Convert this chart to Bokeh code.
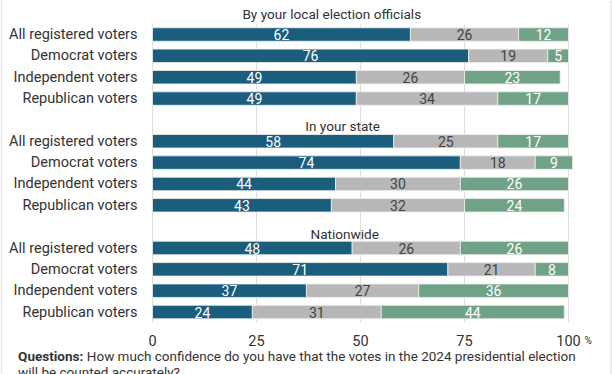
from bokeh.plotting import figure
from bokeh.models import ColumnDataSource, Range1d, Span
from bokeh.embed import file_html
from bokeh.resources import INLINE
from bokeh.core.properties import value

# ---- data ----
groups = ["By your local election officials", "In your state", "Nationwide"]
categories = ["All registered voters", "Democrat voters", "Independent voters", "Republican voters"]
high = [62, 76, 49, 49, 58, 74, 44, 43, 48, 71, 37, 24]
mid = [26, 19, 26, 34, 25, 18, 30, 32, 26, 21, 27, 31]
low = [12, 5, 23, 17, 17, 9, 26, 24, 26, 8, 36, 44]
x_ticks = [0, 25, 50, 75, 100]
x_tick_labels = ["0", "25", "50", "75", "100"]
caption_bold = "Questions:"
caption_text = "How much confidence do you have that the votes in the 2024 presidential election"
caption_line2 = "will be counted accurately?"

FONT = "Roboto"
BLUE = "#1a5d7d"
GREY = "#b7b7b7"
GREEN = "#6fa287"
TXT = "#333333"

W, H = 612, 374
PX_PER_X = 4.16      # pixels per percentage point
X0_PX = 152          # pixel of x = 0
ROW_PX = 21.35       # pixels per row unit
Y0_PX = 34           # pixel of first row centre

rows = []
cat_labels = []
for g in range(len(groups)):
    for r, c in enumerate(categories):
        rows.append(g * 5 + r)
        cat_labels.append(c)

right_mid = [h + m for h, m in zip(high, mid)]
right_low = [h + m + l for h, m, l in zip(high, mid, low)]

src = ColumnDataSource(dict(
    y=rows, cat=cat_labels,
    h_l=[0] * len(rows), h_r=high,
    m_l=high, m_r=right_mid,
    l_l=right_mid, l_r=right_low,
    h_c=[v / 2 for v in high],
    m_c=[a + b / 2 for a, b in zip(high, mid)],
    l_c=[a + b / 2 for a, b in zip(right_mid, low)],
    h_t=[str(v) for v in high], m_t=[str(v) for v in mid], l_t=[str(v) for v in low],
    zero=[0] * len(rows),
))

x_start = -X0_PX / PX_PER_X
x_end = (W - X0_PX) / PX_PER_X
y_top = -Y0_PX / ROW_PX
y_bot = (H - Y0_PX) / ROW_PX

p = figure(width=W, height=H, output_backend="svg", toolbar_location=None,
           x_range=Range1d(x_start, x_end), y_range=Range1d(y_bot, y_top),
           min_border=0)
p.outline_line_color = None
p.background_fill_color = "white"
p.border_fill_color = "white"
p.xaxis.visible = False
p.yaxis.visible = False
p.grid.visible = False

# chart border (left/right edges)
p.add_layout(Span(location=x_start + 0.6 / PX_PER_X, dimension="height", line_color="#d9d9d9", line_width=1))
p.add_layout(Span(location=x_end - 1.4 / PX_PER_X, dimension="height", line_color="#d9d9d9", line_width=1))

# gridlines
g_top = min(rows) - 0.47
g_bot = max(rows) + 0.49
p.segment(x0=x_ticks, x1=x_ticks, y0=[g_top] * len(x_ticks), y1=[g_bot] * len(x_ticks),
          line_color="#dedede", line_width=1)

bh = 0.63
p.hbar(y="y", left="h_l", right="h_r", height=bh, source=src, fill_color=BLUE, line_color="#f0f0f0", line_width=0.8)
p.hbar(y="y", left="m_l", right="m_r", height=bh, source=src, fill_color=GREY, line_color="#f0f0f0", line_width=0.8)
p.hbar(y="y", left="l_l", right="l_r", height=bh, source=src, fill_color=GREEN, line_color="#f0f0f0", line_width=0.8)

common = dict(source=src, text_align="center", text_baseline="middle",
              text_font=value(FONT), text_font_size="14px")
p.text(x="h_c", y="y", text="h_t", text_color="white", **common)
p.text(x="m_c", y="y", text="m_t", text_color="#444444", **common)
p.text(x="l_c", y="y", text="l_t", text_color="white", **common)

# category labels
p.text(x="zero", y="y", text="cat", source=src, x_offset=-15, text_align="right", text_baseline="middle",
       text_font=value(FONT), text_font_size="14.5px", text_color=TXT)

# group titles
title_x = [43.1, 45.7, 46.2]
title_dy = [-0.95, -0.7, -0.65]
p.text(x=title_x, y=[g * 5 + d for g, d in enumerate(title_dy)], text=groups,
       text_align="center", text_baseline="middle", text_font=value(FONT),
       text_font_size="13.6px", text_color=TXT)

# x tick labels
tick_y = g_bot + 0.85
p.text(x=x_ticks, y=[tick_y] * len(x_ticks), text=x_tick_labels, text_align="center",
       text_baseline="middle", text_font=value(FONT), text_font_size="14.5px", text_color=TXT)
p.text(x=[x_ticks[-1]], y=[tick_y], x_offset=16, text=["%"], text_align="left", text_baseline="middle",
       text_font=value(FONT), text_font_size="10px", text_color=TXT)

# caption
cap_x = x_start + 17.6 / PX_PER_X
cap_y = tick_y + 0.7
p.text(x=[cap_x], y=[cap_y], text=[caption_bold], text_align="left", text_baseline="middle",
       text_font=value(FONT), text_font_style="bold", text_font_size="13.5px", text_color=TXT)
p.text(x=[cap_x], y=[cap_y], x_offset=68.7, text=[caption_text], text_align="left", text_baseline="middle",
       text_font=value(FONT), text_font_size="13.5px", text_color=TXT)
p.text(x=[cap_x], y=[cap_y + 0.75], text=[caption_line2], text_align="left", text_baseline="middle",
       text_font=value(FONT), text_font_size="13.5px", text_color=TXT)

open("out.html", "w").write(file_html(p, INLINE))
